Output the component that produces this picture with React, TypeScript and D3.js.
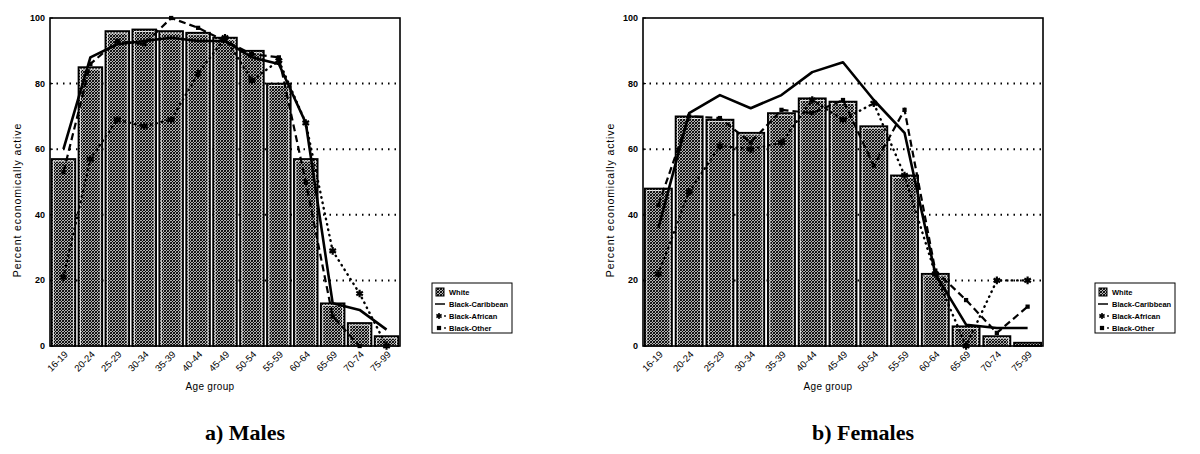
import React from "react";
import * as d3 from "d3";

const ageGroups = ["16-19", "20-24", "25-29", "30-34", "35-39", "40-44", "45-49", "50-54", "55-59", "60-64", "65-69", "70-74", "75-99"];
const yTicks = [0, 20, 40, 60, 80, 100];

// Males
const maleWhite = [57, 85, 96, 96.5, 96, 95.5, 94, 90, 80, 57, 13, 7, 3];
const maleCaribbean = [60, 88, 92, 93, 94, 93, 93, 88, 86, 68, 13, 11, 5];
const maleAfrican = [21, 57, 69, 67, 69, 83, 94, 81, 87, 68, 29, 16, 0];
const maleOther: (number | null)[] = [53, 86, 93, 92, 100, 97, 93, 89, 88, 50, 9, 0, null];

// Females
const femaleWhite = [48, 70, 69, 65, 71, 75.5, 74.5, 67, 52, 22, 6, 3, 1];
const femaleCaribbean = [36, 71, 76.5, 72.5, 76.5, 83.5, 86.5, 75, 65, 22, 6.5, 5.5, 5.5];
const femaleAfrican = [22, 47, 61, 60, 62, 75, 69, 74, 52, 22, 0, 20, 20];
const femaleOther = [43, 70, 69.5, 62, 72, 71, 75, 55, 72, 23, 14, 4, 12];

const legendLabels = ["White", "Black-Caribbean", "Black-African", "Black-Other"];

const FONT = "'Liberation Sans', Arial, sans-serif";

type PanelProps = {
  x0: number;
  x1: number;
  white: number[];
  caribbean: (number | null)[];
  african: (number | null)[];
  other: (number | null)[];
  title: string;
  legendX: number;
};

const starPath = d3.symbol().type(d3.symbolAsterisk).size(40)() as string;
const dotPath = d3.symbol().type(d3.symbolSquare).size(18)() as string;

function Panel({ x0, x1, white, caribbean, african, other, title, legendX }: PanelProps) {
  const y0 = 18;
  const y1 = 346;
  const x = d3.scaleBand<string>().domain(ageGroups).range([x0, x1]).paddingInner(0.12).paddingOuter(0.06);
  const y = d3.scaleLinear().domain([0, 100]).range([y1, y0]);
  const cx = (i: number) => (x(ageGroups[i]) as number) + x.bandwidth() / 2;

  const line = d3
    .line<number | null>()
    .defined((d) => d !== null)
    .x((_, i) => cx(i))
    .y((d) => y(d as number));

  const midX = (x0 + x1) / 2;

  return (
    <g>
      {/* gridlines */}
      {yTicks.filter((t) => t > 0 && t < 100).map((t) => (
        <line key={t} x1={x0} x2={x1} y1={y(t)} y2={y(t)} stroke="#000" strokeWidth={2} strokeDasharray="1.5,5" />
      ))}
      {/* bars */}
      {white.map((v, i) => (
        <g key={i}>
          <rect
            x={x(ageGroups[i])}
            y={y(v)}
            width={x.bandwidth()}
            height={y1 - y(v)}
            fill="url(#hatch)"
            stroke="#000"
            strokeWidth={1.8}
          />
          {y1 - y(v) > 5 && (
            <rect
              x={(x(ageGroups[i]) as number) + 2}
              y={y(v) + 2}
              width={x.bandwidth() - 4}
              height={y1 - y(v) - 2}
              fill="none"
              stroke="#fff"
              strokeWidth={0.8}
            />
          )}
        </g>
      ))}
      {/* lines */}
      <path d={line(caribbean) || ""} fill="none" stroke="#000" strokeWidth={2.6} strokeLinejoin="round" />
      <path d={line(other) || ""} fill="none" stroke="#000" strokeWidth={2.2} strokeDasharray="7,4" />
      <path d={line(african) || ""} fill="none" stroke="#000" strokeWidth={2.4} strokeDasharray="0.5,5" strokeLinecap="round" />
      {african.map((v, i) =>
        v === null ? null : (
          <path key={"a" + i} d={starPath} transform={`translate(${cx(i)},${y(v)})`} stroke="#000" strokeWidth={2.2} fill="none" />
        )
      )}
      {other.map((v, i) =>
        v === null ? null : <path key={"o" + i} d={dotPath} transform={`translate(${cx(i)},${y(v)})`} fill="#000" />
      )}
      {/* frame */}
      <rect x={x0} y={y0} width={x1 - x0} height={y1 - y0} fill="none" stroke="#000" strokeWidth={1.6} />
      {/* y ticks */}
      {yTicks.map((t) => (
        <g key={t}>
          <line x1={x0} x2={x0 + 3} y1={y(t)} y2={y(t)} stroke="#000" />
          <text x={x0 - 5} y={y(t) + 3} textAnchor="end" fontSize={9} fontWeight="bold" fontFamily={FONT}>
            {t}
          </text>
        </g>
      ))}
      {/* x ticks */}
      {ageGroups.map((g, i) => (
        <text
          key={g}
          transform={`translate(${cx(i) + 5},${y1 + 9}) rotate(-45)`}
          textAnchor="end"
          fontSize={9.5}
          fontFamily={FONT}
        >
          {g}
        </text>
      ))}
      <text
        transform={`translate(${x0 - 29},${200}) rotate(-90)`}
        textAnchor="middle"
        fontSize={10.5}
        letterSpacing={0.9}
        fontFamily={FONT}
      >
        Percent economically active
      </text>
      <text x={midX - 15} y={390} textAnchor="middle" fontSize={10} letterSpacing={0.3} fontFamily={FONT}>
        Age group
      </text>
      <text x={midX + 20} y={440} textAnchor="middle" fontSize={22} fontWeight="bold" fontFamily="'Liberation Serif', 'Times New Roman', serif">
        {title}
      </text>
      {/* legend */}
      <g transform={`translate(${legendX},283)`}>
        <rect x={0} y={0} width={80} height={50} fill="#fff" stroke="#000" strokeWidth={1} />
        {legendLabels.map((lab, i) => {
          const ly = 9 + i * 12;
          return (
            <g key={lab}>
              {i === 0 && <rect x={4} y={ly - 4} width={8} height={8} fill="url(#hatch)" stroke="#000" strokeWidth={1} />}
              {i === 1 && <line x1={3} x2={13} y1={ly} y2={ly} stroke="#000" strokeWidth={1.5} />}
              {i === 2 && (
                <>
                  <path d={starPath} transform={`translate(${7},${ly}) scale(0.8)`} stroke="#000" strokeWidth={2} fill="none" />
                  <circle cx={13} cy={ly} r={0.9} fill="#000" />
                </>
              )}
              {i === 3 && (
                <>
                  <path d={dotPath} transform={`translate(${7},${ly})`} fill="#000" />
                  <circle cx={13} cy={ly} r={0.9} fill="#000" />
                </>
              )}
              <text x={17} y={ly + 3} fontSize={7.5} fontWeight="bold" fontFamily={FONT}>
                {lab}
              </text>
            </g>
          );
        })}
      </g>
    </g>
  );
}

export default function App() {
  return (
    <svg width={1200} height={454} style={{ position: "absolute", left: 0, top: 0, background: "#fff" }}>
      <defs>
        <pattern id="hatch" width={3} height={3} patternUnits="userSpaceOnUse">
          <rect width={3} height={3} fill="#fff" />
          <path d="M0,3 L3,0 M-1,1 L1,-1 M2,4 L4,2" stroke="#000" strokeWidth={1.2} />
          <path d="M0,0 L3,3" stroke="#000" strokeWidth={0.8} />
        </pattern>
      </defs>
      <rect width={1200} height={454} fill="#fff" />
      <Panel x0={50} x1={400} white={maleWhite} caribbean={maleCaribbean} african={maleAfrican} other={maleOther} title="a) Males" legendX={432} />
      <Panel x0={643} x1={1043} white={femaleWhite} caribbean={femaleCaribbean} african={femaleAfrican} other={femaleOther} title="b) Females" legendX={1095} />
    </svg>
  );
}
